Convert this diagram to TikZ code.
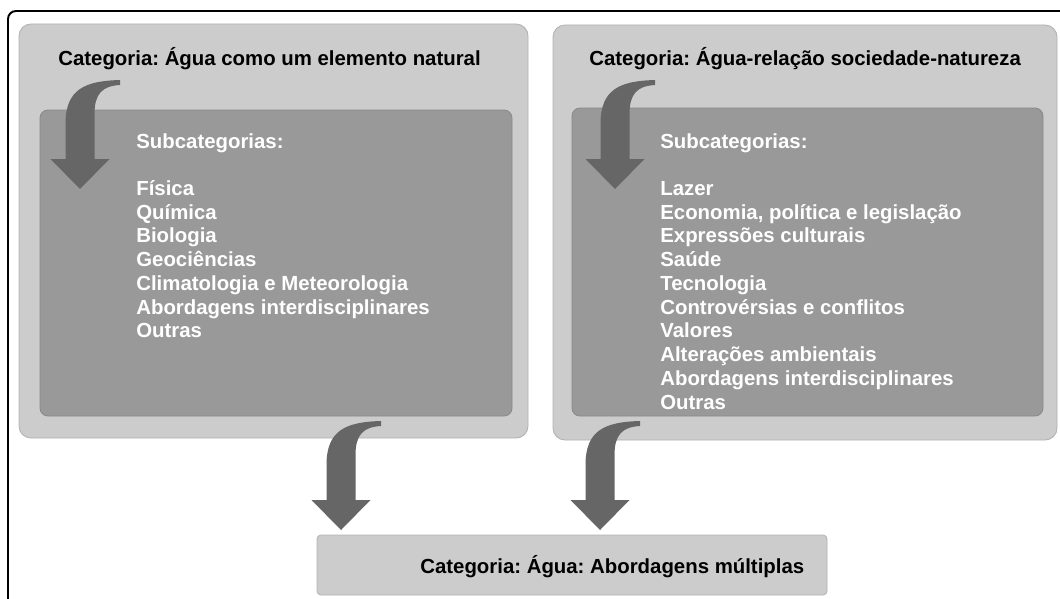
\documentclass[tikz,border=0pt]{standalone}
\usepackage{fontspec}
\setmainfont{Liberation Sans}
\usepackage{tikz}
\usetikzlibrary{fit,positioning}

\definecolor{boxlight}{HTML}{CCCCCC}
\definecolor{boxlightline}{HTML}{B2B2B2}
\definecolor{boxdark}{HTML}{999999}
\definecolor{boxdarkline}{HTML}{8A8A8A}
\definecolor{arrowgray}{HTML}{666666}

\tikzset{
  lightbox/.style={draw=boxlightline, fill=boxlight, rounded corners=0.24cm, inner sep=0pt, line width=0.5pt},
  darkbox/.style={draw=boxdarkline, fill=boxdark, rounded corners=0.16cm, inner sep=0pt, line width=0.5pt},
  catlabel/.style={inner sep=0pt, text=black, font=\fontsize{11.6}{13.5}\selectfont\bfseries},
  sublabel/.style={inner sep=0pt, align=left, text=white, font=\fontsize{11.6}{13.5}\selectfont\bfseries},
  bentarrow/.pic={
    \fill[arrowgray] (0,0) -- (-29.5,-30) -- (-14.5,-30) -- (-14.5,-65)
      .. controls (-14.5,-100) and (5,-108) .. (40,-109) -- (40,-104)
      .. controls (22,-103) and (14.5,-95) .. (14.5,-75) -- (14.5,-30) -- (29.5,-30) -- cycle;
  }
}

\begin{document}
\frenchspacing
\begin{tikzpicture}[x=0.02cm, y=-0.02cm]
  \useasboundingbox (0,0) rectangle (1060,598);

  % frame, cut at the right and bottom
  \draw[line width=1.1pt, rounded corners=0.16cm] (8,620) -- (8,11) -- (1080,11);

  % left category
  \node[lightbox, fit={(19,24) (528,438)}] (natural) {};
  \node[darkbox, fit={(40,110) (512,416)}] (naturalsub) {};
  \node[catlabel, anchor=base west] (naturaltitle) at (58,66) {Categoria: Água como um elemento natural};
  \node[sublabel, anchor=north west] (naturallist) at (136,133)
    {Subcategorias:\\[13.5pt]
     Física\\
     Química\\
     Biologia\\
     Geociências\\
     Climatologia e Meteorologia\\
     Abordagens interdisciplinares\\
     Outras};

  % right category
  \node[lightbox, fit={(553,25) (1057,440)}] (society) {};
  \node[darkbox, fit={(572,108) (1043,416)}] (societysub) {};
  \node[catlabel, anchor=base west] (societytitle) at (589,66) {Categoria: Água-relação sociedade-natureza};
  \node[sublabel, anchor=north west] (societylist) at (660,133)
    {Subcategorias:\\[13.5pt]
     Lazer\\
     Economia, política e legislação\\
     Expressões culturais\\
     Saúde\\
     Tecnologia\\
     Controvérsias e conflitos\\
     Valores\\
     Alterações ambientais\\
     Abordagens interdisciplinares\\
     Outras};

  % joined category
  \node[lightbox, rounded corners=0.08cm, fit={(317,535) (827,595)}] (multiple) {};
  \node[catlabel, anchor=base west] (multipletitle) at (420,573) {Categoria: Água: Abordagens múltiplas};

  % bent arrows
  \pic at (80,189) {bentarrow};
  \pic at (615,189) {bentarrow};
  \pic at (341,530) {bentarrow};
  \pic at (600,530) {bentarrow};
\end{tikzpicture}
\end{document}
